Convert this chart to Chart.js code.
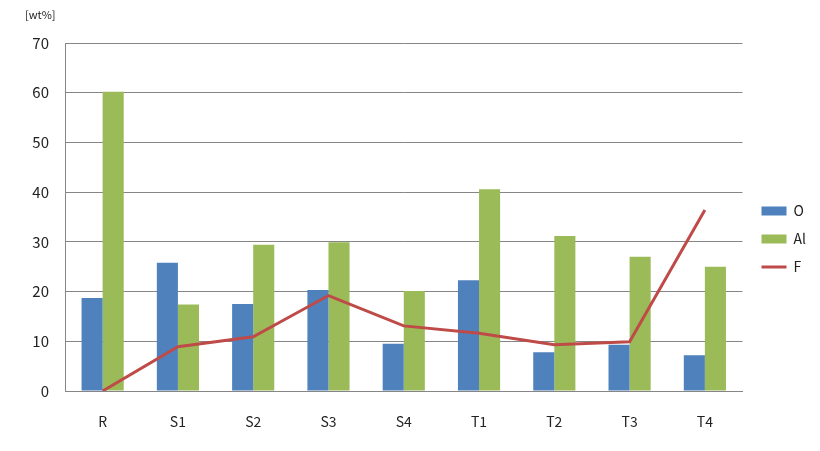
<!DOCTYPE html>
<html>
<head>
<meta charset="utf-8">
<script src="https://cdn.jsdelivr.net/npm/chart.js"></script>
<style>
  html, body { margin: 0; padding: 0; background: #fff; }
  #wrap { width: 820px; height: 451px; position: relative; }
</style>
</head>
<body>
<div id="wrap"><canvas id="chart"></canvas></div>
<script>
// 카테고리 / 값
const categories = ['R', 'S1', 'S2', 'S3', 'S4', 'T1', 'T2', 'T3', 'T4'];
const oValues  = [18.7, 25.8, 17.5, 20.3, 9.5, 22.3, 7.8, 9.3, 7.2];
const alValues = [60.2, 17.4, 29.4, 29.9, 20.1, 40.6, 31.2, 27.0, 25.0];
const fValues  = [0.0, 8.9, 10.9, 19.2, 13.1, 11.6, 9.3, 9.9, 36.4];
const yTicks   = [0, 10, 20, 30, 40, 50, 60, 70];
const unitLabel = '[wt%]';

const FONT = '"Noto Sans CJK KR", "Noto Sans", sans-serif';

// 왼쪽 위 단위 표시 + 범례 위치 살짝 조정
const unitPlugin = {
    id: 'unitLabel',
    afterLayout(chart) {
        if (chart.legend) {
            chart.legend.left += 5;
            chart.legend.right += 5;
        }
    },
    afterDraw(chart) {
        const ctx = chart.ctx;
        ctx.save();
        ctx.font = '11px ' + FONT;
        ctx.fillStyle = '#222';
        ctx.textBaseline = 'middle';
        ctx.fillText(unitLabel, 25, 15);
        ctx.restore();
    }
};

new Chart(document.getElementById('chart').getContext('2d'), {
    data: {
        labels: categories,
        datasets: [
            {
                type: 'bar', label: 'O', data: oValues,
                backgroundColor: '#4F81BD', borderWidth: 0,
                categoryPercentage: 0.56, barPercentage: 1,
                pointStyle: 'rect', order: 1
            },
            {
                type: 'bar', label: 'Al', data: alValues,
                backgroundColor: '#9BBB59', borderWidth: 0,
                categoryPercentage: 0.56, barPercentage: 1,
                pointStyle: 'rect', order: 1
            },
            {
                type: 'line', label: 'F', data: fValues,
                borderColor: '#BE4B48', backgroundColor: '#BE4B48',
                borderWidth: 3, pointRadius: 0, pointHoverRadius: 0,
                tension: 0, pointStyle: 'line', order: 0
            }
        ]
    },
    options: {
        responsive: true,
        maintainAspectRatio: false,
        animation: false,
        layout: { padding: { top: 43, right: 9, left: 0, bottom: 0 } },
        scales: {
            x: {
                offset: true,
                grid: { display: false, drawTicks: false },
                border: { display: true, color: '#868686', width: 1 },
                ticks: { color: '#222', font: { family: FONT, size: 14 }, padding: 22 },
                afterFit: s => { s.height = 60; }
            },
            y: {
                min: 0, max: 70,
                afterBuildTicks: s => { s.ticks = yTicks.map(v => ({ value: v })); },
                grid: { color: '#868686', lineWidth: 1, drawTicks: false },
                border: { display: true, color: '#868686', width: 1 },
                ticks: { color: '#222', font: { family: FONT, size: 15 }, padding: 16 },
                afterFit: s => { s.width = 65; }
            }
        },
        plugins: {
            legend: {
                position: 'right',
                fullSize: false,
                // 빈 제목으로 범례 항목을 조금 아래로 내림
                title: {
                    display: true, text: ' ',
                    font: { family: FONT, size: 14 },
                    padding: { top: 0, bottom: 27 }
                },
                labels: {
                    usePointStyle: true,
                    pointStyleWidth: 25,
                    boxHeight: 9,
                    padding: 14,
                    color: '#222',
                    font: { family: FONT, size: 14 },
                    sort: (a, b) => a.datasetIndex - b.datasetIndex
                }
            },
            tooltip: { enabled: false }
        }
    },
    plugins: [unitPlugin]
});
</script>
</body>
</html>
